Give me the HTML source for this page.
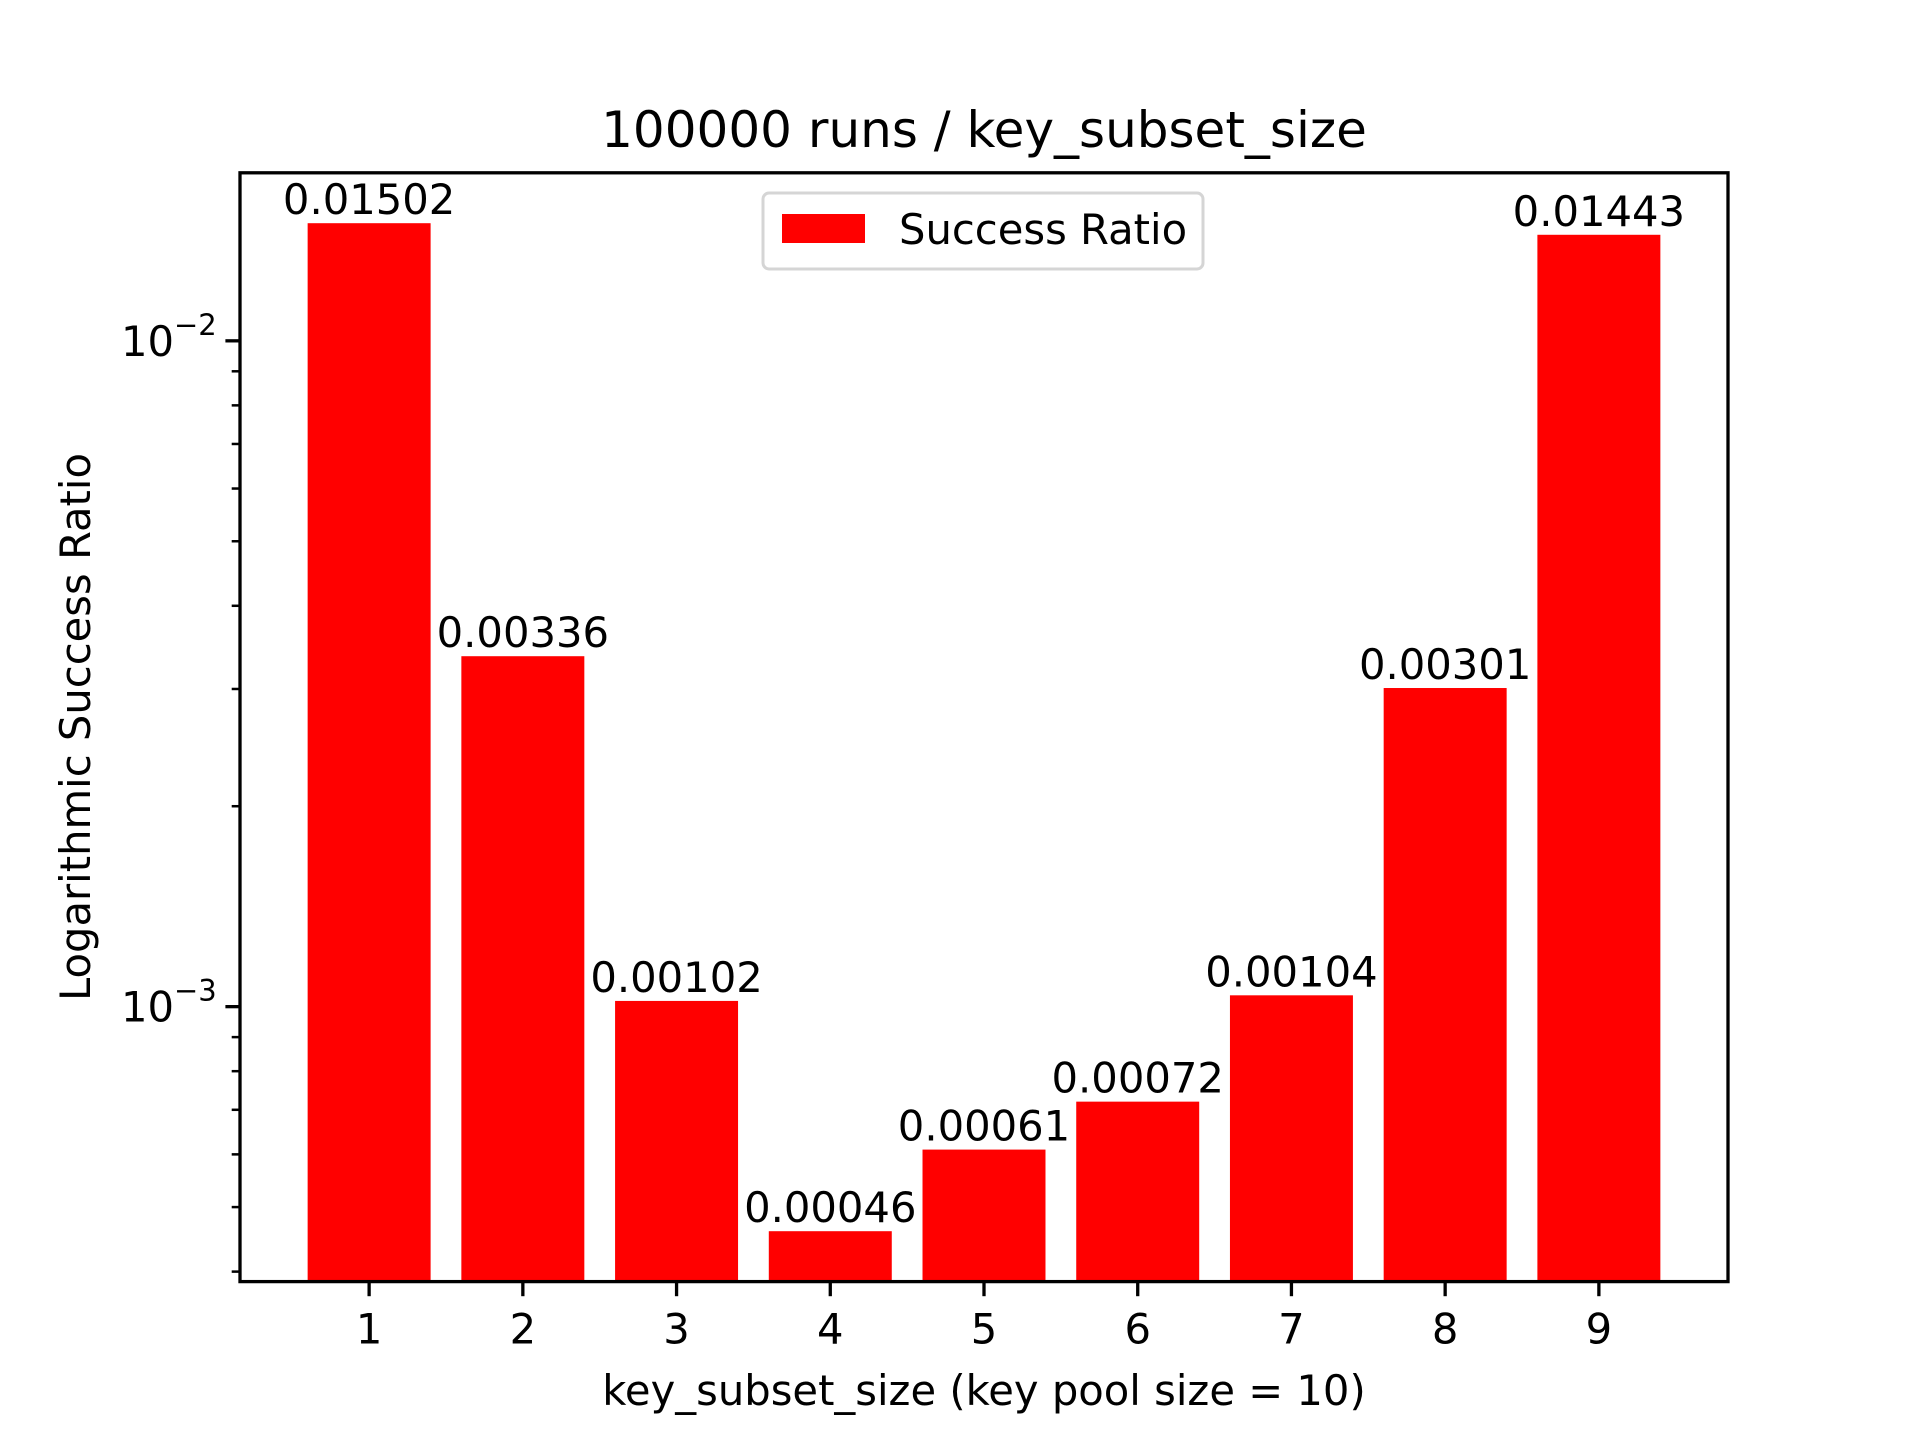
<!DOCTYPE html>
<html><head><meta charset="utf-8"><style>
html,body{margin:0;padding:0;background:#fff}
svg{display:block;font-family:"DejaVu Sans","Liberation Sans",sans-serif}
</style></head><body>
<svg id="chart" width="1920" height="1440" viewBox="0 0 1920 1440" xmlns="http://www.w3.org/2000/svg">
<rect width="1920" height="1440" fill="#fff"/>
<text x="984" y="147" font-size="50" text-anchor="middle">100000 runs / key_subset_size</text>
<g id="bars"></g>
<g id="labels"></g>
<g id="yticks"></g>
<g id="xticks"></g>
<rect x="240" y="172.8" width="1488" height="1108.8" fill="none" stroke="#000" stroke-width="3.3"/>
<text transform="translate(90,727) rotate(-90)" font-size="41.7" text-anchor="middle">Logarithmic Success Ratio</text>
<text x="984" y="1405" font-size="41.7" text-anchor="middle">key_subset_size (key pool size = 10)</text>
<g>
<rect x="763" y="193" width="440" height="76" rx="6" fill="#fff" stroke="#d5d5d5" stroke-width="3"/>
<rect x="782" y="214" width="83" height="29" fill="#ff0000"/>
<text x="899" y="244" font-size="41.7">Success Ratio</text>
</g>
</svg>
<script>
const categories = [1,2,3,4,5,6,7,8,9];
const values = [0.01502,0.00336,0.00102,0.00046,0.00061,0.00072,0.00104,0.00301,0.01443];
const valueLabels = ["0.01502","0.00336","0.00102","0.00046","0.00061","0.00072","0.00104","0.00301","0.01443"];
const majorTicks = [0.001,0.01];
const majorTickLabels = ["3","2"];
const minorTicks = [0.0004,0.0005,0.0006,0.0007,0.0008,0.0009,0.002,0.003,0.004,0.005,0.006,0.007,0.008,0.009];

const NS="http://www.w3.org/2000/svg";
const L=240,R=1728,T=172.8,B=1281.6;
const lmin=Math.log10(Math.min(...values)),lmax=Math.log10(Math.max(...values));
const m=(lmax-lmin)*0.05, y0=lmin-m, y1=lmax+m;
const xmin=categories[0]-0.4-(categories.length-1+0.8)*0.05, xmax=categories[categories.length-1]+0.4+(categories.length-1+0.8)*0.05;
function sx(v){return L+(v-xmin)/(xmax-xmin)*(R-L);}
function sy(v){return B-(Math.log10(v)-y0)/(y1-y0)*(B-T);}
function mk(tag,attrs,parent){const e=document.createElementNS(NS,tag);for(const k in attrs)e.setAttribute(k,attrs[k]);document.getElementById(parent).appendChild(e);return e;}
categories.forEach((c,i)=>{
  const x0=sx(c-0.4),x1=sx(c+0.4),yt=sy(values[i]);
  const r=mk('rect',{x:x0,y:yt,width:x1-x0,height:B-yt,fill:'#ff0000'},'bars');
  
  
  const t=mk('text',{x:sx(c),y:yt-9,'font-size':41.7,'text-anchor':'middle'},'labels');
  t.textContent=valueLabels[i];
  
  
  const tk=mk('line',{x1:sx(c),x2:sx(c),y1:B,y2:B+14.6,stroke:'#000','stroke-width':3.3},'xticks');
  
  
  const tl=mk('text',{x:sx(c),y:B+62,'font-size':41.7,'text-anchor':'middle'},'xticks');
  tl.textContent=String(c);
  
  
});
majorTicks.forEach((v,i)=>{
  const y=sy(v);
  const tk=mk('line',{x1:L-14.6,x2:L,y1:y,y2:y,stroke:'#000','stroke-width':3.3},'yticks');
  
  
  const t=mk('text',{x:L-66,y:y+15,'font-size':41.7,'text-anchor':'end'},'yticks');
  t.textContent='10';
  
  
  const s=mk('text',{x:L-66,y:y-6,'font-size':29}, 'yticks');
  s.textContent='\u2212'+majorTickLabels[i];
  
  
});
minorTicks.forEach(v=>{
  const y=sy(v); if(y>B+1||y<T-1)return;
  const tk=mk('line',{x1:L-8.3,x2:L,y1:y,y2:y,stroke:'#000','stroke-width':2.5},'yticks');
  
  
});
</script>
</body></html>
